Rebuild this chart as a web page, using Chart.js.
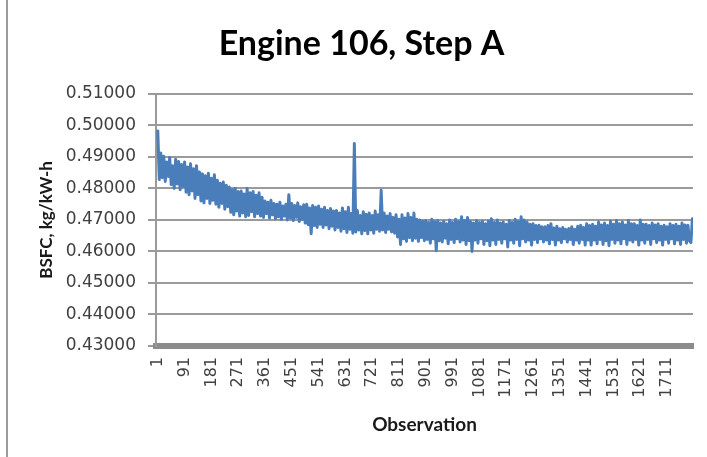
<!DOCTYPE html>
<html>
<head>
<meta charset="utf-8">
<script src="https://cdn.jsdelivr.net/npm/chart.js@4"></script>
<style>
  body { margin: 0; background: #fff; }
  #wrap { position: relative; width: 707px; height: 457px; }
  #frame { position: absolute; left: 6px; top: 0; width: 2px; height: 457px; background: #9a9a9a; }
  canvas { position: absolute; left: 0; top: 0; }
</style>
</head>
<body>
<div id="wrap">
  <canvas id="chart" width="707" height="457"></canvas>
  <div id="frame"></div>
</div>
<script>
const obs = [
  1, 6, 11, 16, 21, 26, 31, 36, 41, 46,
  51, 56, 61, 66, 71, 76, 81, 86, 91, 96,
  101, 106, 111, 116, 121, 126, 131, 136, 141, 146,
  151, 156, 161, 166, 171, 176, 181, 186, 191, 196,
  201, 206, 211, 216, 221, 226, 231, 236, 241, 246,
  251, 256, 261, 266, 271, 276, 281, 286, 291, 296,
  301, 306, 311, 316, 321, 326, 331, 336, 341, 346,
  351, 356, 361, 366, 371, 376, 381, 386, 391, 396,
  401, 406, 411, 416, 421, 426, 431, 436, 441, 446,
  451, 456, 461, 466, 471, 476, 481, 486, 491, 496,
  501, 506, 511, 516, 521, 526, 531, 536, 541, 546,
  551, 556, 561, 566, 571, 576, 581, 586, 591, 596,
  601, 606, 611, 616, 621, 626, 631, 636, 641, 646,
  651, 656, 661, 666, 671, 676, 681, 686, 691, 696,
  701, 706, 711, 716, 721, 726, 731, 736, 741, 746,
  751, 756, 761, 766, 771, 776, 781, 786, 791, 796,
  801, 806, 811, 816, 821, 826, 831, 836, 841, 846,
  851, 856, 861, 866, 871, 876, 881, 886, 891, 896,
  901, 906, 911, 916, 921, 926, 931, 936, 941, 946,
  951, 956, 961, 966, 971, 976, 981, 986, 991, 996,
  1001, 1006, 1011, 1016, 1021, 1026, 1031, 1036, 1041, 1046,
  1051, 1056, 1061, 1066, 1071, 1076, 1081, 1086, 1091, 1096,
  1101, 1106, 1111, 1116, 1121, 1126, 1131, 1136, 1141, 1146,
  1151, 1156, 1161, 1166, 1171, 1176, 1181, 1186, 1191, 1196,
  1201, 1206, 1211, 1216, 1221, 1226, 1231, 1236, 1241, 1246,
  1251, 1256, 1261, 1266, 1271, 1276, 1281, 1286, 1291, 1296,
  1301, 1306, 1311, 1316, 1321, 1326, 1331, 1336, 1341, 1346,
  1351, 1356, 1361, 1366, 1371, 1376, 1381, 1386, 1391, 1396,
  1401, 1406, 1411, 1416, 1421, 1426, 1431, 1436, 1441, 1446,
  1451, 1456, 1461, 1466, 1471, 1476, 1481, 1486, 1491, 1496,
  1501, 1506, 1511, 1516, 1521, 1526, 1531, 1536, 1541, 1546,
  1551, 1556, 1561, 1566, 1571, 1576, 1581, 1586, 1591, 1596,
  1601, 1606, 1611, 1616, 1621, 1626, 1631, 1636, 1641, 1646,
  1651, 1656, 1661, 1666, 1671, 1676, 1681, 1686, 1691, 1696,
  1701, 1706, 1711, 1716, 1721, 1726, 1731, 1736, 1741, 1746,
  1751, 1756, 1761, 1766, 1771, 1776, 1781, 1786, 1791, 1796
];
const bsfc = [
  0.4982, 0.4828, 0.4912, 0.4834, 0.4902, 0.4822, 0.4884, 0.4838, 0.4898, 0.4812,
  0.4872, 0.4800, 0.4892, 0.4814, 0.4885, 0.4796, 0.4876, 0.4806, 0.4884, 0.4788,
  0.4868, 0.4780, 0.4878, 0.4792, 0.4862, 0.4768, 0.4872, 0.4780, 0.4852, 0.4760,
  0.4846, 0.4754, 0.4840, 0.4768, 0.4848, 0.4752, 0.4832, 0.4762, 0.4843, 0.4750,
  0.4826, 0.4740, 0.4816, 0.4752, 0.4820, 0.4734, 0.4810, 0.4742, 0.4804, 0.4724,
  0.4796, 0.4716, 0.4800, 0.4728, 0.4790, 0.4712, 0.4792, 0.4722, 0.4782, 0.4710,
  0.4800, 0.4714, 0.4786, 0.4726, 0.4790, 0.4710, 0.4778, 0.4720, 0.4786, 0.4712,
  0.4772, 0.4708, 0.4760, 0.4720, 0.4756, 0.4706, 0.4762, 0.4716, 0.4752, 0.4704,
  0.4750, 0.4710, 0.4756, 0.4702, 0.4744, 0.4712, 0.4750, 0.4700, 0.4780, 0.4706,
  0.4752, 0.4698, 0.4746, 0.4708, 0.4754, 0.4695, 0.4742, 0.4702, 0.4748, 0.4690,
  0.4750, 0.4685, 0.4738, 0.4656, 0.4746, 0.4682, 0.4740, 0.4676, 0.4744, 0.4686,
  0.4734, 0.4676, 0.4740, 0.4684, 0.4730, 0.4672, 0.4736, 0.4680, 0.4728, 0.4668,
  0.4730, 0.4676, 0.4722, 0.4664, 0.4738, 0.4672, 0.4726, 0.4660, 0.4740, 0.4670,
  0.4720, 0.4658, 0.4942, 0.4662, 0.4730, 0.4668, 0.4714, 0.4656, 0.4726, 0.4666,
  0.4718, 0.4656, 0.4722, 0.4668, 0.4714, 0.4658, 0.4728, 0.4670, 0.4716, 0.4664,
  0.4794, 0.4668, 0.4722, 0.4660, 0.4712, 0.4670, 0.4720, 0.4662, 0.4708, 0.4658,
  0.4716, 0.4646, 0.4702, 0.4622, 0.4716, 0.4640, 0.4706, 0.4632, 0.4720, 0.4644,
  0.4708, 0.4634, 0.4722, 0.4642, 0.4702, 0.4632, 0.4700, 0.4644, 0.4696, 0.4634,
  0.4698, 0.4638, 0.4692, 0.4626, 0.4702, 0.4640, 0.4694, 0.4602, 0.4698, 0.4634,
  0.4690, 0.4630, 0.4696, 0.4642, 0.4688, 0.4624, 0.4700, 0.4638, 0.4692, 0.4628,
  0.4702, 0.4640, 0.4694, 0.4630, 0.4710, 0.4636, 0.4698, 0.4622, 0.4708, 0.4634,
  0.4694, 0.4600, 0.4690, 0.4636, 0.4698, 0.4626, 0.4692, 0.4640, 0.4696, 0.4622,
  0.4688, 0.4634, 0.4696, 0.4618, 0.4704, 0.4636, 0.4692, 0.4622, 0.4700, 0.4638,
  0.4690, 0.4626, 0.4693, 0.4640, 0.4686, 0.4614, 0.4698, 0.4636, 0.4692, 0.4626,
  0.4702, 0.4638, 0.4694, 0.4618, 0.4710, 0.4640, 0.4700, 0.4630, 0.4693, 0.4636,
  0.4686, 0.4620, 0.4688, 0.4638, 0.4682, 0.4628, 0.4683, 0.4640, 0.4678, 0.4630,
  0.4678, 0.4636, 0.4682, 0.4624, 0.4688, 0.4638, 0.4674, 0.4620, 0.4680, 0.4636,
  0.4672, 0.4628, 0.4676, 0.4640, 0.4670, 0.4630, 0.4673, 0.4638, 0.4678, 0.4622,
  0.4670, 0.4636, 0.4680, 0.4626, 0.4683, 0.4638, 0.4676, 0.4620, 0.4688, 0.4636,
  0.4682, 0.4620, 0.4686, 0.4636, 0.4680, 0.4624, 0.4693, 0.4638, 0.4684, 0.4622,
  0.4690, 0.4634, 0.4682, 0.4618, 0.4696, 0.4638, 0.4686, 0.4626, 0.4698, 0.4636,
  0.4688, 0.4624, 0.4693, 0.4640, 0.4684, 0.4622, 0.4698, 0.4636, 0.4688, 0.4630,
  0.4688, 0.4638, 0.4682, 0.4620, 0.4700, 0.4636, 0.4686, 0.4626, 0.4686, 0.4638,
  0.4682, 0.4622, 0.4690, 0.4640, 0.4684, 0.4628, 0.4688, 0.4636, 0.4680, 0.4620,
  0.4683, 0.4638, 0.4678, 0.4626, 0.4688, 0.4640, 0.4682, 0.4624, 0.4686, 0.4636,
  0.4680, 0.4622, 0.4690, 0.4638, 0.4684, 0.4626, 0.4683, 0.4634, 0.4628, 0.4704
];
const xTickLabels = [1, 91, 181, 271, 361, 451, 541, 631, 721, 811, 901, 991, 1081, 1171, 1261, 1351, 1441, 1531, 1621, 1711];
const yTicks = [0.43, 0.44, 0.45, 0.46, 0.47, 0.48, 0.49, 0.50, 0.51];

const GRID = "#9a9a9a";
const TEXT = "#404040";

// rotated x labels, reading bottom to top like the original
const xLabelPlugin = {
  id: "xLabels",
  afterDraw(chart) {
    const ctx = chart.ctx;
    const xs = chart.scales.x;
    const top = chart.chartArea.bottom + 11;
    ctx.save();
    ctx.font = '16px "DejaVu Sans"';
    ctx.fillStyle = TEXT;
    ctx.textAlign = "right";
    ctx.textBaseline = "middle";
    xTickLabels.forEach(v => {
      ctx.save();
      ctx.translate(xs.getPixelForValue(v), top);
      ctx.rotate(-Math.PI / 2);
      ctx.fillText(String(v), 0, 0);
      ctx.restore();
    });
    ctx.restore();
  }
};

new Chart(document.getElementById("chart"), {
  type: "line",
  data: {
    datasets: [{
      data: obs.map((x, i) => ({ x: x, y: bsfc[i] })),
      borderColor: "#4a7ebb",
      borderWidth: 3,
      borderJoinStyle: "round",
      borderCapStyle: "round",
      pointRadius: 0,
      tension: 0
    }]
  },
  options: {
    responsive: false,
    animation: false,
    layout: { padding: { left: 30, right: 14, top: 0, bottom: 0 } },
    plugins: {
      legend: { display: false },
      tooltip: { enabled: false },
      title: {
        display: true,
        text: "Engine 106, Step A",
        color: "#000",
        font: { family: "Lato", size: 34, weight: "bold" },
        padding: { top: 24, bottom: 29 }
      }
    },
    scales: {
      x: {
        type: "linear",
        min: -5,
        max: 1798,
        ticks: { display: false },
        grid: { display: false },
        border: { display: true, color: "#8c8c8c", width: 6 },
        title: {
          display: true,
          text: "Observation",
          color: "#1a1a1a",
          font: { family: "Lato", size: 19, weight: "bold" },
          padding: { bottom: 21 }
        },
        afterFit: s => { s.height = 111; }
      },
      y: {
        min: 0.43,
        max: 0.51,
        afterBuildTicks: s => { s.ticks = yTicks.map(v => ({ value: v })); },
        ticks: {
          color: TEXT,
          font: { family: "DejaVu Sans", size: 17 },
          padding: 12,
          callback: v => Number(v).toFixed(5)
        },
        grid: { color: GRID, lineWidth: 2, tickLength: 8 },
        border: { color: GRID, width: 2 },
        title: {
          display: true,
          text: "BSFC, kg/kW-h",
          color: "#1a1a1a",
          font: { family: "Lato", size: 17, weight: "bold" },
          padding: { top: 6 }
        },
        afterFit: s => { s.width = 126; }
      }
    }
  },
  plugins: [xLabelPlugin]
});
</script>
</body>
</html>
